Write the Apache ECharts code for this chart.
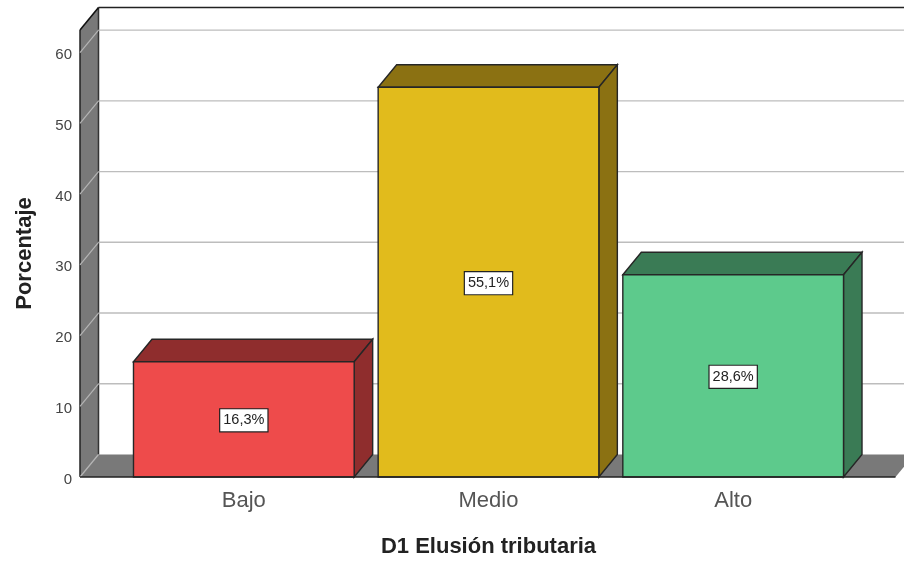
<!DOCTYPE html>
<html><head><meta charset="utf-8">
<style>html,body{margin:0;padding:0;background:#fff}#c{width:904px;height:561px}</style>
<script src="https://cdn.jsdelivr.net/npm/echarts@6/dist/echarts.min.js"></script>
</head><body><div id="c"></div>
<script>
const categories = ['Bajo', 'Medio', 'Alto'];
const values = [16.3, 55.1, 28.6];
const yTicks = [0, 10, 20, 30, 40, 50, 60];
const yMax = 63.2;
const frontColors = ['#EE4B4B', '#E1BB1C', '#5DCA8C'];
const sideColors = ['#8F2D2D', '#8B7112', '#3A7B55'];
const xTitle = 'D1 Elusión tributaria';
const yTitle = 'Porcentaje';

const DX = 18.5, DY = -22.5, WALL_LEFT = 41.5, FONT = '"Liberation Sans", Arial, sans-serif';
const chart = echarts.init(document.getElementById('c'), null, {renderer: 'canvas'});
const poly = (points, fill, stroke, lw) => ({type: 'polygon', shape: {points},
  style: {fill, stroke: stroke || 'none', lineWidth: lw === undefined ? 1 : lw}});
const line = (x1, y1, x2, y2, stroke, lw) => ({type: 'line', shape: {x1, y1, x2, y2},
  style: {stroke, lineWidth: lw || 1.4, fill: 'none'}});

chart.setOption({
  animation: false,
  backgroundColor: '#fff',
  grid: {left: 121.5, right: 48.5, top: 30, bottom: 84, outerBoundsMode: 'none'},
  xAxis: {
    type: 'category', data: categories,
    axisLine: {show: false}, axisTick: {show: false},
    axisLabel: {fontFamily: FONT, fontSize: 22, color: '#555', margin: 12.5},
    name: xTitle, nameLocation: 'middle', nameGap: 59,
    nameTextStyle: {fontFamily: FONT, fontSize: 22, fontWeight: 'bold', color: '#222'}
  },
  yAxis: {
    type: 'value', min: 0, max: yMax, interval: 10,
    axisLine: {show: false}, axisTick: {show: false}, splitLine: {show: false},
    axisLabel: {fontFamily: FONT, fontSize: 15, color: '#444', margin: 49.5, showMaxLabel: false, verticalAlign: 'top', lineHeight: 5},
    name: yTitle, nameLocation: 'middle', nameGap: 86,
    nameTextStyle: {fontFamily: FONT, fontSize: 22, fontWeight: 'bold', color: '#222'}
  },
  series: [
    {
      type: 'custom', silent: true, z: 1, clip: false,
      encode: {y: 0}, data: [yMax],
      renderItem(params, api) {
        const cs = params.coordSys;
        const xl = cs.x - WALL_LEFT;
        const y0 = api.coord([0, 0])[1];
        const yt = api.coord([0, api.value(0)])[1];
        const xEnd = cs.x + cs.width + 40;
        return {type: 'group', children: [
          poly([[xl, y0], [xl + DX, y0 + DY], [xEnd + DX, y0 + DY], [xEnd, y0]], '#797979'),
          poly([[xl, y0], [xl, yt], [xl + DX, yt + DY], [xl + DX, y0 + DY]], '#797979'),
          line(xl, yt, xl, y0, '#222', 1.5),
          line(xl + DX, yt + DY, xl + DX, y0 + DY, '#333', 1.5),
          line(xl, yt, xl + DX, yt + DY, '#111', 1.6),
          line(xl + DX, yt + DY, 904, yt + DY, '#222', 1.6)
        ]};
      }
    },
    {
      type: 'custom', silent: true, z: 2, clip: false,
      encode: {y: 0}, data: yTicks,
      renderItem(params, api) {
        const cs = params.coordSys;
        const xl = cs.x - WALL_LEFT;
        const v = api.value(0);
        const y = api.coord([0, v])[1];
        const kids = [line(xl, y, xl + DX, y + DY, '#b4b4b4', 1.2)];
        if (v > 0) kids.push(line(xl + DX, y + DY, 904, y + DY, '#bdbdbd', 1.4));
        return {type: 'group', children: kids};
      }
    },
    {
      type: 'custom', silent: true, z: 3, clip: false,
      encode: {x: 0, y: 1},
      data: values.map((v, i) => [i, v]),
      renderItem(params, api) {
        const i = api.value(0), v = api.value(1);
        const [cx, yt] = api.coord([i, v]);
        const yb = api.coord([i, 0])[1];
        const w = api.size([1, 0])[0] * 0.902;
        const xl = cx - w / 2, xr = cx + w / 2;
        const edge = '#262626';
        return {type: 'group', children: [
          poly([[xl, yt], [xl + DX, yt + DY], [xr + DX, yt + DY], [xr, yt]], sideColors[i], edge, 1.4),
          poly([[xr, yt], [xr + DX, yt + DY], [xr + DX, yb + DY], [xr, yb]], sideColors[i], edge, 1.4),
          {type: 'rect', shape: {x: xl, y: yt, width: w, height: yb - yt},
            style: {fill: frontColors[i], stroke: edge, lineWidth: 1.4}},
          {type: 'text', x: cx, y: (yt + yb) / 2 + 1, z2: 10,
            style: {text: v.toFixed(1).replace('.', ',') + '%', align: 'center', verticalAlign: 'middle',
              fontFamily: FONT, fontSize: 14.5, fill: '#222', backgroundColor: '#fff',
              borderColor: '#222', borderWidth: 1.2, padding: [4, 3, 3, 3]}}
        ]};
      }
    },
    {
      type: 'custom', silent: true, z: 4, clip: false,
      encode: {y: 0}, data: [0],
      renderItem(params, api) {
        const cs = params.coordSys;
        const y = api.coord([0, api.value(0)])[1];
        const xl = cs.x - WALL_LEFT, xEnd = cs.x + cs.width + 40;
        return {type: 'group', children: [line(xl, y, xEnd, y, '#222', 1.5)]};
      }
    }
  ]
});
</script></body></html>
